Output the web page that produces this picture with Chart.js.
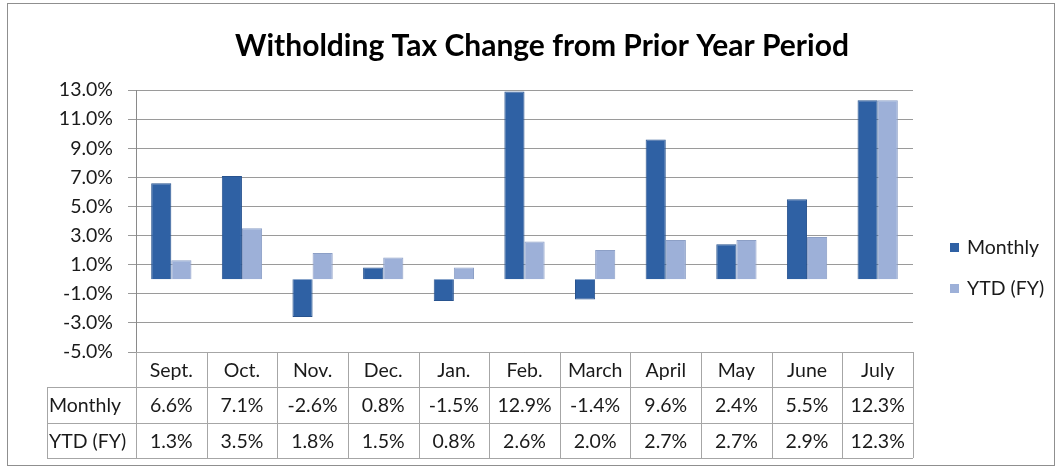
<!DOCTYPE html>
<html>
<head>
<meta charset="utf-8">
<script src="https://cdn.jsdelivr.net/npm/chart.js@4"></script>
<style>
html,body{margin:0;padding:0;background:#fff;}
#wrap{position:relative;width:1061px;height:468px;}
</style>
</head>
<body>
<div id="wrap"><canvas id="c" width="1061" height="468"></canvas></div>
<script>
const categories = ["Sept.", "Oct.", "Nov.", "Dec.", "Jan.", "Feb.", "March", "April", "May", "June", "July"];
const monthly = [6.6, 7.1, -2.6, 0.8, -1.5, 12.9, -1.4, 9.6, 2.4, 5.5, 12.3];
const ytd = [1.3, 3.5, 1.8, 1.5, 0.8, 2.6, 2.0, 2.7, 2.7, 2.9, 12.3];
const seriesNames = ["Monthly", "YTD (FY)"];
const titleText = "Witholding Tax Change from Prior Year Period";
const yMin = -5, yMax = 13, yStep = 2;

const FONT = "Lato, 'Open Sans', sans-serif";
const colors = ["#2f61a4", "#9db0d8"];
const borders = ["#28538f", "#8c9fc6"];
const fmt = v => v.toFixed(1) + "%";

const extras = {
  id: "extras",
  afterDraw(chart) {
    const ctx = chart.ctx;
    const xs = chart.scales.x;
    const area = chart.chartArea;
    ctx.save();
    // outer frame
    ctx.strokeStyle = "#8f8f8f";
    ctx.lineWidth = 1;
    ctx.strokeRect(7.5, 3.5, 1047, 462);
    // title
    ctx.fillStyle = "#000";
    ctx.font = "bold 30px " + FONT;
    ctx.textAlign = "center";
    ctx.textBaseline = "middle";
    ctx.fillText(titleText, 542, 46);
    // data table
    const rows = [area.bottom, 387, 423, 458];
    const labelLeft = 47;
    const colW = (xs.getPixelForValue(1) - xs.getPixelForValue(0));
    const left = area.left, right = area.right;
    ctx.strokeStyle = "#a6a6a6";
    ctx.beginPath();
    ctx.moveTo(left, rows[0] + 0.5); ctx.lineTo(right, rows[0] + 0.5);
    for (let r = 1; r < rows.length; r++) {
      ctx.moveTo(labelLeft, rows[r] + 0.5); ctx.lineTo(right, rows[r] + 0.5);
    }
    ctx.moveTo(labelLeft + 0.5, rows[1]); ctx.lineTo(labelLeft + 0.5, rows[3]);
    for (let i = 0; i <= categories.length; i++) {
      const x = Math.round(left + i * colW) + 0.5;
      ctx.moveTo(x, rows[0]); ctx.lineTo(x, rows[3]);
    }
    ctx.stroke();
    ctx.font = "19.5px " + FONT;
    ctx.fillStyle = "#1a1a1a";
    ctx.textAlign = "center";
    const rowMid = r => (rows[r] + rows[r + 1]) / 2 + 1;
    categories.forEach((c, i) => ctx.fillText(c, xs.getPixelForValue(i), rowMid(0)));
    monthly.forEach((v, i) => ctx.fillText(fmt(v), xs.getPixelForValue(i), rowMid(1)));
    ytd.forEach((v, i) => ctx.fillText(fmt(v), xs.getPixelForValue(i), rowMid(2)));
    ctx.textAlign = "left";
    ctx.fillText(seriesNames[0], labelLeft + 2, rowMid(1));
    ctx.fillText(seriesNames[1], labelLeft + 2, rowMid(2));
    // legend
    const legY = [247, 288];
    seriesNames.forEach((n, i) => {
      ctx.fillStyle = colors[i];
      ctx.fillRect(950, legY[i] - 4, 9, 9);
      ctx.fillStyle = "#1a1a1a";
      ctx.textAlign = "left";
      ctx.fillText(n, 967, legY[i] + 1);
    });
    ctx.restore();
  }
};

new Chart(document.getElementById("c"), {
  type: "bar",
  data: {
    labels: categories,
    datasets: [
      { label: seriesNames[0], data: monthly, backgroundColor: colors[0], borderColor: borders[0], borderWidth: 1 },
      { label: seriesNames[1], data: ytd, backgroundColor: colors[1], borderColor: borders[1], borderWidth: 1 }
    ]
  },
  options: {
    responsive: false,
    animation: false,
    layout: { padding: { left: 0, top: 90, right: 148, bottom: 116 } },
    datasets: { bar: { categoryPercentage: 0.57, barPercentage: 1.0 } },
    plugins: { legend: { display: false }, title: { display: false }, tooltip: { enabled: false } },
    scales: {
      x: { display: false, offset: true, grid: { display: false } },
      y: {
        min: yMin, max: yMax,
        afterFit: s => { s.width = 136; },
        ticks: { stepSize: yStep, callback: v => fmt(v), padding: 15, color: "#1a1a1a", font: { family: FONT, size: 19.5 } },
        grid: { color: ctx => ctx.tick && ctx.tick.value === 0 ? "#7a7a7a" : "#9a9a9a", tickLength: 8, drawTicks: true },
        border: { display: true, color: "#8a8a8a" }
      }
    }
  },
  plugins: [extras]
});
</script>
</body>
</html>
